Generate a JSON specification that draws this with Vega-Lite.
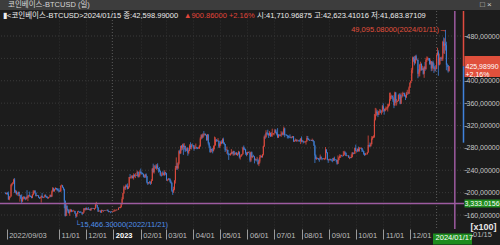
{
  "$schema": "https://vega.github.io/schema/vega-lite/v6.json",
  "width": 464,
  "height": 218,
  "autosize": {"type": "none"},
  "padding": {"left": 0, "top": 11, "right": 36, "bottom": 16},
  "background": "#1c1c1c",
  "config": {
    "view": {"stroke": null},
    "font": "Liberation Sans, Noto Sans CJK KR, sans-serif",
    "axis": {"labelFont": "Liberation Sans, sans-serif", "labelFontSize": 7.5, "labelOverlap": false}
  },
  "data": {
    "values": "d,o,h,l,c\n2022-09-03,199.9,200.6,197.2,198.0\n2022-09-04,198.0,200.0,196.6,199.4\n2022-09-05,199.4,200.6,196.4,197.9\n2022-09-06,197.9,202.0,187.5,187.9\n2022-09-07,187.9,193.6,186.3,192.9\n2022-09-08,192.9,194.3,190.2,193.2\n2022-09-09,193.2,215.6,193.0,213.6\n2022-09-10,213.6,216.6,211.3,216.5\n2022-09-11,216.5,218.6,214.9,218.3\n2022-09-12,218.3,224.9,215.6,223.7\n2022-09-13,223.7,226.0,199.5,201.8\n2022-09-14,201.8,205.0,199.0,201.9\n2022-09-15,201.9,203.7,196.4,197.0\n2022-09-16,197.0,199.6,194.4,198.0\n2022-09-17,198.0,201.9,197.2,201.1\n2022-09-18,201.1,201.9,193.4,194.2\n2022-09-19,194.2,196.8,183.9,195.4\n2022-09-20,195.4,195.6,188.4,189.9\n2022-09-21,189.9,197.0,181.3,184.3\n2022-09-22,184.3,192.6,183.8,191.7\n2022-09-23,191.7,193.3,187.9,192.8\n2022-09-24,192.8,193.1,188.9,189.4\n2022-09-25,189.4,191.1,186.3,188.0\n2022-09-26,188.0,193.1,187.5,192.2\n2022-09-27,192.2,204.4,188.5,190.8\n2022-09-28,190.8,195.4,184.8,194.1\n2022-09-29,194.1,196.4,191.1,195.4\n2022-09-30,195.4,201.8,192.6,194.2\n2022-10-01,194.2,194.8,192.2,193.1\n2022-10-02,193.1,193.9,189.9,190.5\n2022-10-03,190.5,197.2,190.0,196.2\n2022-10-04,196.2,204.4,195.2,201.6\n2022-10-05,201.6,203.6,197.7,203.4\n2022-10-06,203.4,204.5,199.5,199.8\n2022-10-07,199.8,200.4,193.2,194.2\n2022-10-08,194.2,195.9,193.4,195.5\n2022-10-09,195.5,195.9,194.2,194.5\n2022-10-10,194.5,195.4,190.7,191.3\n2022-10-11,191.3,192.2,188.6,190.6\n2022-10-12,190.6,192.1,189.4,191.6\n2022-10-13,191.6,195.1,182.1,193.8\n2022-10-14,193.8,199.5,190.9,191.8\n2022-10-15,191.8,192.3,190.2,190.7\n2022-10-16,190.7,192.9,190.6,192.7\n2022-10-17,192.7,196.6,192.6,195.5\n2022-10-18,195.5,196.9,191.5,193.3\n2022-10-19,193.3,193.6,190.8,191.3\n2022-10-20,191.3,193.4,189.1,190.4\n2022-10-21,190.4,192.3,188.9,191.6\n2022-10-22,191.6,192.6,191.2,192.0\n2022-10-23,192.0,196.9,191.9,195.7\n2022-10-24,195.7,196.0,191.8,193.3\n2022-10-25,193.3,204.1,192.4,202.1\n2022-10-26,202.1,210.1,200.9,207.7\n2022-10-27,207.7,208.6,201.8,202.9\n2022-10-28,202.9,206.5,201.5,205.9\n2022-10-29,205.9,209.5,205.5,208.2\n2022-10-30,208.2,208.5,205.2,206.3\n2022-10-31,206.3,208.3,202.4,204.9\n2022-11-01,204.9,206.8,203.9,204.8\n2022-11-02,204.8,207.9,200.6,201.6\n2022-11-03,201.6,203.9,201.3,202.1\n2022-11-04,202.1,213.0,201.9,212.5\n2022-11-05,212.5,214.5,211.2,212.9\n2022-11-06,212.9,213.6,209.0,209.2\n2022-11-07,209.2,210.3,204.1,206.1\n2022-11-08,206.1,207.2,172.0,185.4\n2022-11-09,185.4,185.9,157.2,158.8\n2022-11-10,158.8,180.1,158.1,176.0\n2022-11-11,176.0,177.6,164.0,170.7\n2022-11-12,170.7,171.1,166.6,168.5\n2022-11-13,168.5,169.0,162.9,163.3\n2022-11-14,163.3,170.3,158.6,166.1\n2022-11-15,166.1,170.9,165.6,169.0\n2022-11-16,169.0,170.3,165.0,166.6\n2022-11-17,166.6,168.5,165.4,166.8\n2022-11-18,166.8,169.3,166.4,166.9\n2022-11-19,166.9,167.9,165.9,167.0\n2022-11-20,167.0,167.5,162.3,162.8\n2022-11-21,162.8,163.3,154.66,157.9\n2022-11-22,157.9,162.9,156.4,162.1\n2022-11-23,162.1,167.1,161.6,166.1\n2022-11-24,166.1,167.7,165.5,166.0\n2022-11-25,166.0,166.0,163.5,165.2\n2022-11-26,165.2,166.8,164.3,164.6\n2022-11-27,164.6,166.0,164.1,164.4\n2022-11-28,164.4,164.8,159.9,162.2\n2022-11-29,162.2,165.5,161.8,164.4\n2022-11-30,164.4,172.3,164.2,171.7\n2022-12-01,171.7,172.0,168.5,169.7\n2022-12-02,169.7,172.9,168.1,172.8\n2022-12-03,172.8,172.9,169.3,169.7\n2022-12-04,169.7,171.8,169.4,171.1\n2022-12-05,171.1,174.2,169.2,169.7\n2022-12-06,169.7,171.1,168.9,170.9\n2022-12-07,170.9,171.2,167.5,168.3\n2022-12-08,168.3,172.7,167.6,172.3\n2022-12-09,172.3,173.0,170.9,171.3\n2022-12-10,171.3,172.3,170.9,171.3\n2022-12-11,171.3,172.6,170.7,170.9\n2022-12-12,170.9,172.3,168.7,172.1\n2022-12-13,172.1,180.1,171.1,177.8\n2022-12-14,177.8,183.6,176.8,178.1\n2022-12-15,178.1,178.3,172.7,173.6\n2022-12-16,173.6,174.1,165.4,166.3\n2022-12-17,166.3,168.0,166.1,167.8\n2022-12-18,167.8,168.4,166.7,167.8\n2022-12-19,167.8,168.2,163.9,164.4\n2022-12-20,164.4,169.7,164.0,169.0\n2022-12-21,169.0,169.1,167.5,168.3\n2022-12-22,168.3,168.6,165.6,168.3\n2022-12-23,168.3,168.6,167.7,167.8\n2022-12-24,167.8,168.6,167.7,168.4\n2022-12-25,168.4,168.5,167.4,168.3\n2022-12-26,168.3,169.5,167.8,169.2\n2022-12-27,169.2,169.7,166.3,167.1\n2022-12-28,167.1,167.2,164.7,165.5\n2022-12-29,165.5,166.9,165.1,166.3\n2022-12-30,166.3,166.4,163.3,166.1\n2022-12-31,166.1,166.5,165.0,165.4\n2023-01-01,165.4,166.3,165.0,166.2\n2023-01-02,166.2,167.9,165.5,166.7\n2023-01-03,166.7,169.8,166.0,166.7\n2023-01-04,166.7,170.1,166.6,168.5\n2023-01-05,168.5,168.6,167.6,168.3\n2023-01-06,168.3,170.1,167.9,169.5\n2023-01-07,169.5,169.6,169.1,169.4\n2023-01-08,169.4,173.3,169.1,172.8\n2023-01-09,172.8,174.4,172.3,172.5\n2023-01-10,172.5,175.3,172.0,174.5\n2023-01-11,174.5,179.9,173.1,179.4\n2023-01-12,179.4,191.8,178.7,188.5\n2023-01-13,188.5,199.7,187.7,199.1\n2023-01-14,199.1,212.7,197.7,209.8\n2023-01-15,209.8,210.9,205.5,208.8\n2023-01-16,208.8,214.6,205.0,211.9\n2023-01-17,211.9,214.4,209.9,211.3\n2023-01-18,211.3,216.4,205.8,206.8\n2023-01-19,206.8,211.6,206.6,210.7\n2023-01-20,210.7,228.1,208.9,227.8\n2023-01-21,227.8,233.4,226.3,227.1\n2023-01-22,227.1,230.3,224.4,227.8\n2023-01-23,227.8,231.6,226.1,229.1\n2023-01-24,229.1,231.1,225.0,226.3\n2023-01-25,226.3,234.5,223.3,231.4\n2023-01-26,231.4,232.9,228.2,230.2\n2023-01-27,230.2,234.8,226.0,230.8\n2023-01-28,230.8,231.4,229.6,230.3\n2023-01-29,230.3,239.5,229.8,237.4\n2023-01-30,237.4,237.5,227.1,228.3\n2023-01-31,228.3,232.9,227.0,231.4\n2023-02-01,231.4,239.6,228.9,237.2\n2023-02-02,237.2,243.0,234.0,234.7\n2023-02-03,234.7,237.4,232.3,234.3\n2023-02-04,234.3,235.8,232.7,233.3\n2023-02-05,233.3,234.3,227.5,228.7\n2023-02-06,228.7,231.6,226.4,227.6\n2023-02-07,227.6,233.3,226.7,232.6\n2023-02-08,232.6,234.5,226.5,229.4\n2023-02-09,229.4,229.9,216.4,218.0\n2023-02-10,218.0,219.0,213.6,216.3\n2023-02-11,216.3,219.0,216.2,218.6\n2023-02-12,218.6,221.0,216.1,218.0\n2023-02-13,218.0,220.0,213.9,217.9\n2023-02-14,217.9,224.0,215.3,221.3\n2023-02-15,221.3,243.5,221.2,243.3\n2023-02-16,243.3,251.8,235.7,236.4\n2023-02-17,236.4,249.6,234.0,246.9\n2023-02-18,246.9,248.5,245.2,246.3\n2023-02-19,246.3,250.2,242.5,243.3\n2023-02-20,243.3,251.2,240.3,248.5\n2023-02-21,248.5,252.5,242.0,243.4\n2023-02-22,243.4,243.6,235.8,241.8\n2023-02-23,241.8,245.8,237.0,238.6\n2023-02-24,238.6,239.5,229.9,231.8\n2023-02-25,231.8,232.0,228.5,230.6\n2023-02-26,230.6,236.8,230.0,235.5\n2023-02-27,235.5,238.9,232.2,234.9\n2023-02-28,234.9,235.9,230.2,231.4\n2023-03-01,231.4,240.2,230.2,236.5\n2023-03-02,236.5,236.5,231.9,234.7\n2023-03-03,234.7,234.8,221.1,223.5\n2023-03-04,223.5,224.0,220.4,223.5\n2023-03-05,223.5,226.2,221.9,224.3\n2023-03-06,224.3,226.0,222.5,224.0\n2023-03-07,224.0,225.5,218.1,220.1\n2023-03-08,220.1,222.0,216.0,217.2\n2023-03-09,217.2,218.6,201.6,203.6\n2023-03-10,203.6,204.1,196.0,201.9\n2023-03-11,201.9,210.6,199.3,206.3\n2023-03-12,206.3,222.0,204.4,221.6\n2023-03-13,221.6,247.8,216.3,243.7\n2023-03-14,243.7,263.0,240.9,247.5\n2023-03-15,247.5,253.1,240.5,243.6\n2023-03-16,243.6,254.9,241.9,252.0\n2023-03-17,252.0,275.9,250.1,273.9\n2023-03-18,273.9,277.0,268.7,270.3\n2023-03-19,270.3,284.1,269.2,283.5\n2023-03-20,283.5,285.1,275.3,280.2\n2023-03-21,280.2,287.4,276.6,284.8\n2023-03-22,284.8,287.9,267.5,281.6\n2023-03-23,281.6,288.4,277.5,283.4\n2023-03-24,283.4,284.0,272.5,275.2\n2023-03-25,275.2,277.7,273.7,274.9\n2023-03-26,274.9,280.8,274.5,280.2\n2023-03-27,280.2,280.4,265.9,271.4\n2023-03-28,271.4,276.5,268.7,274.6\n2023-03-29,274.6,286.5,274.6,283.6\n2023-03-30,283.6,290.0,278.0,281.2\n2023-03-31,281.2,287.0,277.2,284.8\n2023-04-01,284.8,288.0,283.9,284.5\n2023-04-02,284.5,285.3,279.2,281.9\n2023-04-03,281.9,284.9,274.9,278.1\n2023-04-04,278.1,284.4,278.0,281.7\n2023-04-05,281.7,287.8,280.8,281.7\n2023-04-06,281.7,282.0,277.7,280.3\n2023-04-07,280.3,281.0,277.8,279.1\n2023-04-08,279.1,281.7,278.8,279.2\n2023-04-09,279.2,285.3,278.1,283.3\n2023-04-10,283.3,299.0,281.7,297.0\n2023-04-11,297.0,304.3,295.0,302.4\n2023-04-12,302.4,304.5,296.2,298.4\n2023-04-13,298.4,306.2,298.0,304.5\n2023-04-14,304.5,310.0,300.4,303.9\n2023-04-15,303.9,306.1,302.4,304.9\n2023-04-16,304.9,305.5,301.8,303.2\n2023-04-17,303.2,303.2,292.7,294.3\n2023-04-18,294.3,304.9,293.0,303.9\n2023-04-19,303.9,304.1,285.8,288.2\n2023-04-20,288.2,290.2,280.1,282.5\n2023-04-21,282.5,283.7,271.3,272.6\n2023-04-22,272.6,278.9,271.3,278.2\n2023-04-23,278.2,278.3,273.0,275.9\n2023-04-24,275.9,280.0,270.2,275.1\n2023-04-25,275.1,284.5,273.6,283.1\n2023-04-26,283.1,300.2,277.3,284.2\n2023-04-27,284.2,298.9,284.5,294.7\n2023-04-28,294.7,295.9,290.5,293.4\n2023-04-29,293.4,294.5,291.6,292.4\n2023-04-30,292.4,297.4,290.9,292.7\n2023-05-01,292.7,292.8,279.7,282.6\n2023-05-02,282.6,288.8,279.6,286.8\n2023-05-03,286.8,292.5,283.7,290.3\n2023-05-04,290.3,293.6,286.7,288.5\n2023-05-05,288.5,297.0,288.3,295.3\n2023-05-06,295.3,298.3,286.9,289.0\n2023-05-07,289.0,290.0,284.8,287.0\n2023-05-08,287.0,287.1,272.7,276.8\n2023-05-09,276.8,278.2,274.7,276.2\n2023-05-10,276.2,282.4,269.3,276.6\n2023-05-11,276.6,276.2,267.0,269.8\n2023-05-12,269.8,270.3,258.5,268.1\n2023-05-13,268.1,269.6,267.0,267.8\n2023-05-14,267.8,271.0,266.0,269.1\n2023-05-15,269.1,277.8,268.2,272.1\n2023-05-16,272.1,272.6,268.7,270.3\n2023-05-17,270.3,275.0,266.0,274.1\n2023-05-18,274.1,274.7,266.5,268.2\n2023-05-19,268.2,270.8,266.8,268.9\n2023-05-20,268.9,272.2,268.5,271.2\n2023-05-21,271.2,272.5,266.9,267.5\n2023-05-22,267.5,270.6,265.4,268.5\n2023-05-23,268.5,274.8,268.4,273.3\n2023-05-24,273.3,273.4,261.1,263.3\n2023-05-25,263.3,266.2,259.1,264.8\n2023-05-26,264.8,269.3,264.1,267.2\n2023-05-27,267.2,269.0,266.0,268.6\n2023-05-28,268.6,282.1,268.5,280.8\n2023-05-29,280.8,284.3,275.7,277.5\n2023-05-30,277.5,280.6,276.0,277.0\n2023-05-31,277.0,278.4,267.6,271.2\n2023-06-01,271.2,272.1,265.1,268.2\n2023-06-02,268.2,273.3,267.1,272.5\n2023-06-03,272.5,272.8,270.5,271.2\n2023-06-04,271.2,274.2,270.5,271.2\n2023-06-05,271.2,271.4,254.3,257.6\n2023-06-06,257.6,273.3,255.0,272.4\n2023-06-07,272.4,273.5,262.6,263.5\n2023-06-08,263.5,266.2,261.6,265.0\n2023-06-09,265.0,267.7,263.9,264.8\n2023-06-10,264.8,265.0,252.3,258.5\n2023-06-11,258.5,261.2,257.1,259.2\n2023-06-12,259.2,260.3,255.6,259.0\n2023-06-13,259.0,264.0,257.6,259.0\n2023-06-14,259.0,261.0,249.6,251.2\n2023-06-15,251.2,257.5,247.4,255.8\n2023-06-16,255.8,267.2,252.6,263.3\n2023-06-17,263.3,267.7,262.5,265.2\n2023-06-18,265.2,266.3,263.1,263.4\n2023-06-19,263.4,268.9,262.6,268.4\n2023-06-20,268.4,284.0,266.5,283.1\n2023-06-21,283.1,302.0,281.6,300.0\n2023-06-22,300.0,304.3,295.8,299.0\n2023-06-23,299.0,311.6,298.2,306.9\n2023-06-24,306.9,308.0,302.4,305.5\n2023-06-25,305.5,312.5,302.5,304.7\n2023-06-26,304.7,306.5,297.6,302.7\n2023-06-27,302.7,310.0,301.6,306.9\n2023-06-28,306.9,307.0,299.5,300.8\n2023-06-29,300.8,308.2,300.2,304.5\n2023-06-30,304.5,314.4,299.9,304.7\n2023-07-01,304.7,306.6,302.6,305.9\n2023-07-02,305.9,306.6,302.7,306.2\n2023-07-03,306.2,313.9,305.8,311.6\n2023-07-04,311.6,313.3,306.2,307.7\n2023-07-05,307.7,308.8,302.3,305.1\n2023-07-06,305.1,315.3,297.5,298.9\n2023-07-07,298.9,304.5,297.7,303.5\n2023-07-08,303.5,304.0,300.6,302.9\n2023-07-09,302.9,304.2,301.5,302.0\n2023-07-10,302.0,309.9,299.5,304.1\n2023-07-11,304.1,308.1,302.9,306.2\n2023-07-12,306.2,309.5,302.2,303.9\n2023-07-13,303.9,318.1,302.5,314.8\n2023-07-14,314.8,316.0,299.0,303.2\n2023-07-15,303.2,304.0,302.4,302.9\n2023-07-16,302.9,304.4,302.0,302.3\n2023-07-17,302.3,303.3,297.0,301.4\n2023-07-18,301.4,302.5,296.6,299.2\n2023-07-19,299.2,302.0,297.8,299.1\n2023-07-20,299.1,304.1,297.2,298.0\n2023-07-21,298.0,300.5,297.4,299.1\n2023-07-22,299.1,300.1,296.9,298.6\n2023-07-23,298.6,301.1,298.5,300.9\n2023-07-24,300.9,301.0,290.6,291.8\n2023-07-25,291.8,293.7,290.6,292.3\n2023-07-26,292.3,296.8,291.9,293.5\n2023-07-27,293.5,295.6,291.0,292.2\n2023-07-28,292.2,295.3,290.8,293.1\n2023-07-29,293.1,294.1,292.8,293.6\n2023-07-30,293.6,294.4,290.8,292.8\n2023-07-31,292.8,295.0,290.9,292.3\n2023-08-01,292.3,297.3,286.8,296.8\n2023-08-02,296.8,300.5,290.0,291.8\n2023-08-03,291.8,294.4,290.1,291.8\n2023-08-04,291.8,293.1,288.0,290.9\n2023-08-05,290.9,291.6,289.3,290.6\n2023-08-06,290.6,292.2,289.0,290.9\n2023-08-07,290.9,292.8,285.9,291.8\n2023-08-08,291.8,301.5,290.9,297.7\n2023-08-09,297.7,301.3,294.5,295.6\n2023-08-10,295.6,297.0,293.5,294.3\n2023-08-11,294.3,294.9,292.3,293.9\n2023-08-12,293.9,294.5,293.6,294.1\n2023-08-13,294.1,294.4,292.4,292.8\n2023-08-14,292.8,296.6,292.5,294.1\n2023-08-15,294.1,294.6,290.8,291.7\n2023-08-16,291.7,292.2,283.9,284.0\n2023-08-17,284.0,285.6,253.0,266.3\n2023-08-18,266.3,268.2,259.4,260.5\n2023-08-19,260.5,263.5,258.5,261.9\n2023-08-20,261.9,262.3,260.7,261.2\n2023-08-21,261.2,261.9,258.1,260.6\n2023-08-22,260.6,261.3,255.2,259.6\n2023-08-23,259.6,268.1,259.0,264.3\n2023-08-24,264.3,264.6,259.4,261.6\n2023-08-25,261.6,261.9,257.9,260.5\n2023-08-26,260.5,261.0,259.6,260.0\n2023-08-27,260.0,261.7,259.5,260.9\n2023-08-28,260.9,262.2,258.2,261.0\n2023-08-29,261.0,281.5,259.5,277.3\n2023-08-30,277.3,277.5,270.5,271.9\n2023-08-31,271.9,272.3,258.0,259.3\n2023-09-01,259.3,260.4,253.2,258.0\n2023-09-02,258.0,259.9,257.6,258.7\n2023-09-03,258.7,260.6,257.5,259.7\n2023-09-04,259.7,260.6,257.6,258.1\n2023-09-05,258.1,259.3,255.7,257.8\n2023-09-06,257.8,262.0,254.3,257.5\n2023-09-07,257.5,262.4,256.7,261.2\n2023-09-08,261.2,264.3,256.6,259.1\n2023-09-09,259.1,259.6,258.1,258.8\n2023-09-10,258.8,259.1,255.0,258.4\n2023-09-11,258.4,258.8,249.8,251.6\n2023-09-12,251.6,266.5,251.4,258.5\n2023-09-13,258.5,263.9,257.7,261.9\n2023-09-14,261.9,268.6,261.7,265.3\n2023-09-15,265.3,267.6,262.3,266.1\n2023-09-16,266.1,267.6,264.8,265.7\n2023-09-17,265.7,266.2,264.4,265.3\n2023-09-18,265.3,274.2,265.0,267.6\n2023-09-19,267.6,274.9,266.4,272.1\n2023-09-20,272.1,273.9,268.5,271.3\n2023-09-21,271.3,271.6,265.3,265.7\n2023-09-22,265.7,267.4,264.9,265.8\n2023-09-23,265.8,266.4,265.2,265.8\n2023-09-24,265.8,267.2,262.3,262.6\n2023-09-25,262.6,264.3,259.9,262.9\n2023-09-26,262.9,263.9,261.6,262.2\n2023-09-27,262.2,268.4,261.6,263.5\n2023-09-28,263.5,272.7,262.9,271.1\n2023-09-29,271.1,272.3,268.2,269.2\n2023-09-30,269.2,270.8,269.1,269.7\n2023-10-01,269.7,280.7,269.6,279.9\n2023-10-02,279.9,285.8,274.3,274.9\n2023-10-03,274.9,275.7,271.7,274.3\n2023-10-04,274.3,279.0,272.8,277.9\n2023-10-05,277.9,282.3,273.6,274.1\n2023-10-06,274.1,281.6,273.4,279.3\n2023-10-07,279.3,280.5,278.2,279.5\n2023-10-08,279.5,281.3,278.1,279.7\n2023-10-09,279.7,280.1,272.6,275.9\n2023-10-10,275.9,277.3,273.0,273.9\n2023-10-11,273.9,274.5,267.5,269.6\n2023-10-12,269.6,270.9,265.6,267.6\n2023-10-13,267.6,271.1,266.9,268.6\n2023-10-14,268.6,269.4,268.1,268.6\n2023-10-15,268.6,272.7,268.4,271.6\n2023-10-16,271.6,302.1,271.4,285.2\n2023-10-17,285.2,285.6,280.9,284.1\n2023-10-18,284.1,289.6,281.8,283.3\n2023-10-19,283.3,289.0,281.9,286.7\n2023-10-20,286.7,301.0,286.3,296.7\n2023-10-21,296.7,300.8,294.6,299.1\n2023-10-22,299.1,302.4,297.6,299.9\n2023-10-23,299.9,340.6,298.1,330.9\n2023-10-24,330.9,351.5,329.0,339.1\n2023-10-25,339.1,350.4,336.7,345.0\n2023-10-26,345.0,347.9,338.0,342.2\n2023-10-27,342.2,344.6,335.0,339.1\n2023-10-28,339.1,346.5,338.8,345.3\n2023-10-29,345.3,349.3,342.8,345.3\n2023-10-30,345.3,348.5,342.0,344.9\n2023-10-31,344.9,347.0,339.5,346.4\n2023-11-01,346.4,356.6,343.0,354.3\n2023-11-02,354.3,359.7,344.7,349.4\n2023-11-03,349.4,349.5,339.4,345.7\n2023-11-04,345.7,351.5,345.5,350.0\n2023-11-05,350.0,354.2,347.3,350.2\n2023-11-06,350.2,352.8,348.1,350.5\n2023-11-07,350.5,358.9,345.0,353.8\n2023-11-08,353.8,358.9,352.5,356.9\n2023-11-09,356.9,378.7,355.1,366.9\n2023-11-10,366.9,378.9,364.1,372.9\n2023-11-11,372.9,375.2,367.2,372.9\n2023-11-12,372.9,373.6,368.1,370.7\n2023-11-13,370.7,374.2,362.0,364.6\n2023-11-14,364.6,367.9,351.0,356.0\n2023-11-15,356.0,380.5,354.9,378.9\n2023-11-16,378.9,379.7,360.1,363.1\n2023-11-17,363.1,367.6,355.6,363.5\n2023-11-18,363.5,364.7,361.7,363.8\n2023-11-19,363.8,375.4,363.3,375.0\n2023-11-20,375.0,377.7,367.1,374.6\n2023-11-21,374.6,376.6,357.9,359.1\n2023-11-22,359.1,378.6,358.6,372.4\n2023-11-23,372.4,375.1,369.6,372.2\n2023-11-24,372.2,380.4,371.8,377.8\n2023-11-25,377.8,378.4,376.3,377.3\n2023-11-26,377.3,378.7,371.7,372.3\n2023-11-27,372.3,374.7,365.6,370.6\n2023-11-28,370.6,380.1,368.9,377.2\n2023-11-29,377.2,383.9,374.5,377.4\n2023-11-30,377.4,380.1,375.7,377.2\n2023-12-01,377.2,389.9,376.3,387.9\n2023-12-02,387.9,397.6,387.0,396.0\n2023-12-03,396.0,400.5,395.4,399.7\n2023-12-04,399.7,423.1,399.7,419.9\n2023-12-05,419.9,443.2,413.3,441.1\n2023-12-06,441.1,442.9,434.0,439.5\n2023-12-07,439.5,443.9,427.5,431.2\n2023-12-08,431.2,445.5,430.5,443.7\n2023-12-09,443.7,446.6,436.9,437.5\n2023-12-10,437.5,440.0,435.4,437.6\n2023-12-11,437.6,437.8,404.5,412.5\n2023-12-12,412.5,420.5,407.4,414.8\n2023-12-13,414.8,430.3,407.9,428.7\n2023-12-14,428.7,434.1,418.0,430.1\n2023-12-15,430.1,431.1,418.0,419.5\n2023-12-16,419.5,426.9,418.8,421.8\n2023-12-17,421.8,423.4,411.0,412.6\n2023-12-18,412.6,426.3,405.2,425.0\n2023-12-19,425.0,433.6,417.4,421.0\n2023-12-20,421.0,440.9,419.5,437.1\n2023-12-21,437.1,443.5,433.5,438.3\n2023-12-22,438.3,442.9,436.3,439.8\n2023-12-23,439.8,440.7,435.9,439.7\n2023-12-24,439.7,440.6,428.7,430.2\n2023-12-25,430.2,437.9,428.6,434.7\n2023-12-26,434.7,435.0,417.0,421.8\n2023-12-27,421.8,434.5,417.8,433.3\n2023-12-28,433.3,436.0,423.3,425.8\n2023-12-29,425.8,431.0,413.9,421.0\n2023-12-30,421.0,425.7,416.8,422.1\n2023-12-31,422.1,427.8,416.8,421.4\n2024-01-01,421.4,447.6,420.5,446.0\n2024-01-02,446.0,459.0,445.0,451.1\n2024-01-03,451.1,454.4,409.0,428.5\n2024-01-04,428.5,448.6,427.4,440.3\n2024-01-05,440.3,442.8,429.2,441.0\n2024-01-06,441.0,442.0,435.3,438.9\n2024-01-07,438.9,443.4,435.8,439.5\n2024-01-08,439.5,471.5,435.5,469.8\n2024-01-09,469.8,477.5,448.9,462.8\n2024-01-10,462.8,476.0,448.0,466.4\n2024-01-11,466.4,490.95,454.0,463.4\n2024-01-12,463.4,469.8,418.8,428.5\n2024-01-13,428.5,430.9,424.5,427.6\n2024-01-14,427.6,428.3,414.5,416.98\n2024-01-15,417.11,426.23,416.84,425.99",
    "format": {"type": "csv", "parse": {"d": "date", "o": "number", "h": "number", "l": "number", "c": "number"}}
  },
  "layer": [
    {
      "data": {"values": [{"g": 160}, {"g": 200}, {"g": 240}, {"g": 280}, {"g": 320}, {"g": 360}, {"g": 400}, {"g": 440}, {"g": 480}]},
      "mark": {"type": "rule", "color": "#3a3a3a", "strokeWidth": 1, "strokeDash": [1, 2]},
      "encoding": {"y": {"field": "g", "type": "quantitative"}}
    },
    {
      "data": {"values": [{"yb": "2023-01-01"}, {"yb": "2024-01-01"}]},
      "mark": {"type": "rule", "color": "#5c5c5c", "strokeWidth": 1, "strokeDash": [1, 2]},
      "encoding": {"x": {"field": "yb", "type": "temporal"}}
    },
    {
      "mark": {"type": "rule", "strokeWidth": 0.8},
      "encoding": {
        "x": {
          "field": "d", "type": "temporal",
          "scale": {"type": "utc", "domain": [{"year": 2022, "month": 9, "date": 2, "hours": 5, "utc": true}, {"year": 2024, "month": 1, "date": 26, "hours": 5, "utc": true}]},
          "axis": {
            "title": null,
            "orient": "bottom",
            "domain": false,
            "tickCount": 100,
            "values": [
              {"year": 2022, "month": 9, "date": 3, "utc": true},
              {"year": 2022, "month": 11, "date": 1, "utc": true},
              {"year": 2022, "month": 12, "date": 1, "utc": true},
              {"year": 2023, "month": 1, "date": 1, "utc": true},
              {"year": 2023, "month": 2, "date": 1, "utc": true},
              {"year": 2023, "month": 3, "date": 1, "utc": true},
              {"year": 2023, "month": 4, "date": 1, "utc": true},
              {"year": 2023, "month": 5, "date": 1, "utc": true},
              {"year": 2023, "month": 6, "date": 1, "utc": true},
              {"year": 2023, "month": 7, "date": 1, "utc": true},
              {"year": 2023, "month": 8, "date": 1, "utc": true},
              {"year": 2023, "month": 9, "date": 1, "utc": true},
              {"year": 2023, "month": 10, "date": 1, "utc": true},
              {"year": 2023, "month": 11, "date": 1, "utc": true},
              {"year": 2023, "month": 12, "date": 1, "utc": true},
              {"year": 2024, "month": 1, "date": 17, "utc": true}
            ],
            "labelExpr": "utcdate(datum.value) == 17 ? '2024/01/17' : (utcdate(datum.value) == 3 ? '2022/09/03' : (utcmonth(datum.value) == 0 ? utcFormat(datum.value, '%Y') : utcFormat(datum.value, '%m/%d')))",
            "labelAlign": {"condition": {"test": "utcdate(datum.value) == 17", "value": "center"}, "value": "left"},
            "labelBaseline": "top",
            "labelPadding": {"condition": {"test": "utcdate(datum.value) == 17", "value": -11}, "value": -8},
            "labelOffset": 2,
            "labelColor": {"condition": [{"test": "utcdate(datum.value) == 17", "value": "#ffffff"}, {"test": "utcmonth(datum.value) == 0 && utcdate(datum.value) == 1", "value": "#ffffff"}], "value": "#bdbdbd"},
            "labelFontWeight": {"condition": {"test": "utcmonth(datum.value) == 0 && utcdate(datum.value) == 1", "value": "bold"}, "value": "normal"},
            "labelOverlap": false,
            "labelBound": false,
            "labelFlush": false,
            "tickColor": {"condition": {"test": "utcdate(datum.value) == 17", "value": "#1e8c1e"}, "value": "#9a9a9a"},
            "tickSize": {"condition": {"test": "utcdate(datum.value) == 17", "value": 15}, "value": 10},
            "tickWidth": {"condition": {"test": "utcdate(datum.value) == 17", "value": 39}, "value": 1},
            "tickDash": {"condition": {"test": "utcdate(datum.value) == 17", "value": [0, 4, 11, 30]}, "value": []},
            "tickOffset": 1,
            "grid": true,
            "gridDash": [1, 2],
            "gridColor": {"condition": {"test": "utcdate(datum.value) == 17 || utcdate(datum.value) == 3 || utcmonth(datum.value) == 0", "value": "transparent"}, "value": "#2e2e2e"}
          }
        },
        "y": {
          "field": "l", "type": "quantitative",
          "scale": {"domain": [135, 524.7], "nice": false, "zero": false},
          "axis": {
            "orient": "right",
            "title": "[x100]",
            "titleAngle": 0,
            "titleX": 6,
            "titleY": 215,
            "titleAlign": "left",
            "titleBaseline": "middle",
            "titleColor": "#e6e6e6",
            "titleFontSize": 9,
            "titleFontWeight": "bold",
            "titleFont": "Liberation Sans, sans-serif",
            "domain": false,
            "grid": false,
            "tickCount": 100,
            "values": [160, 180.6, 200, 240, 280, 320, 360, 400, 425.99, 480],
            "labelExpr": "datum.value > 425 && datum.value < 427 ? ['425,98990', '+2,16%'] : (datum.value > 180 && datum.value < 181 ? '3,333.0156' : replace(format(datum.value, '.5f'), '.', ','))",
            "labelAlign": "left",
            "labelBaseline": "middle",
            "labelFontSize": 7,
            "labelLineHeight": 8.5,
            "labelOverlap": false,
            "labelBound": false,
            "labelFlush": false,
            "labelPadding": {"condition": [{"test": "datum.value > 425 && datum.value < 427", "value": -35}, {"test": "datum.value > 180 && datum.value < 181", "value": -36}], "value": -1},
            "labelColor": {"condition": {"test": "datum.value > 425 && datum.value < 427 || datum.value > 180 && datum.value < 181", "value": "#ffffff"}, "value": "#c8c8c8"},
            "tickColor": {"condition": [{"test": "datum.value > 425 && datum.value < 427", "value": "#e0503c"}, {"test": "datum.value > 180 && datum.value < 181", "value": "#1e8c1e"}], "value": "#8a8a8a"},
            "tickSize": {"condition": {"test": "datum.value > 425 && datum.value < 427 || datum.value > 180 && datum.value < 181", "value": 36}, "value": 3},
            "tickWidth": {"condition": [{"test": "datum.value > 425 && datum.value < 427", "value": 21}, {"test": "datum.value > 180 && datum.value < 181", "value": 8}], "value": 1}
          }
        },
        "y2": {"field": "h"},
        "color": {"condition": {"test": "datum.c >= datum.o", "value": "#e04b3f"}, "value": "#3f82dc"}
      }
    },
    {
      "mark": {"type": "bar", "width": 1},
      "encoding": {
        "x": {"field": "d", "type": "temporal"},
        "y": {"field": "o", "type": "quantitative"},
        "y2": {"field": "c"},
        "color": {"condition": {"test": "datum.c >= datum.o", "value": "#e04b3f"}, "value": "#3f82dc"}
      }
    },
    {
      "data": {"values": [{"cx": "2024-01-17"}]},
      "mark": {"type": "rule", "color": "#9d5ba0", "strokeWidth": 1.5, "xOffset": 4},
      "encoding": {"x": {"field": "cx", "type": "temporal"}}
    },
    {
      "data": {"values": [{"cy": 180.6}]},
      "mark": {"type": "rule", "color": "#9d5ba0", "strokeWidth": 1.5},
      "encoding": {"y": {"field": "cy", "type": "quantitative"}}
    },
    {
      "data": {"values": [{"a": 524.7, "b": 425.99, "k": "up"}, {"a": 425.99, "b": 289.3, "k": "down"}]},
      "mark": {"type": "rule", "strokeWidth": 1.5, "x": 463.5},
      "encoding": {
        "y": {"field": "a", "type": "quantitative"},
        "y2": {"field": "b"},
        "color": {"condition": {"test": "datum.k == 'up'", "value": "#e04b3f"}, "value": "#3f82dc"}
      }
    },
    {
      "data": {"values": [{"d": "2024-01-11", "v": 490.95, "t": "49,095.08000(2024/01/11)→"}]},
      "mark": {"type": "text", "align": "right", "baseline": "middle", "dx": 1, "fontSize": 7.5, "color": "#e0503c"},
      "encoding": {"x": {"field": "d", "type": "temporal"}, "y": {"field": "v", "type": "quantitative"}, "text": {"field": "t"}}
    },
    {
      "data": {"values": [{"d": "2022-11-21", "v": 154.66, "t": "└15,466.30000(2022/11/21)"}]},
      "mark": {"type": "text", "align": "left", "baseline": "middle", "dx": -1, "dy": 7, "fontSize": 7.5, "color": "#4f8fe8"},
      "encoding": {"x": {"field": "d", "type": "temporal"}, "y": {"field": "v", "type": "quantitative"}, "text": {"field": "t"}}
    },
    {
      "data": {"values": [{"d": "2024-01-15", "t": "01/15"}]},
      "mark": {"type": "text", "align": "left", "baseline": "top", "dx": 24, "y": 220, "fontSize": 7.5, "color": "#bdbdbd"},
      "encoding": {"x": {"field": "d", "type": "temporal"}, "text": {"field": "t"}}
    },
    {
      "data": {"values": [{}]},
      "mark": {"type": "rect", "x": 0, "x2": 500, "y": -11, "y2": -1, "fill": "#3d3d3d"}
    },
    {
      "data": {"values": [{}]},
      "mark": {"type": "text", "x": 8, "y": -6, "align": "left", "baseline": "middle", "fontSize": 7.5, "color": "#d6d6d6", "text": "코인베이스-BTCUSD (일)"}
    },
    {
      "data": {"values": [{}]},
      "mark": {"type": "text", "x": 480, "y": -6, "align": "left", "baseline": "middle", "fontSize": 8, "color": "#cfcfcf", "text": "□ ×"}
    },
    {
      "data": {"values": [{}]},
      "mark": {"type": "text", "x": 3, "y": 4.7, "align": "left", "baseline": "middle", "fontSize": 7.5, "color": "#ececec", "text": "▮<코인베이스-BTCUSD>2024/01/15 종:42,598.99000"}
    },
    {
      "data": {"values": [{}]},
      "mark": {"type": "text", "x": 184, "y": 4.7, "align": "left", "baseline": "middle", "fontSize": 7.5, "color": "#e0453a", "text": "▲900.86000  +2.16%"}
    },
    {
      "data": {"values": [{}]},
      "mark": {"type": "text", "x": 257, "y": 4.7, "align": "left", "baseline": "middle", "fontSize": 7.5, "color": "#ececec", "text": "시:41,710.96875 고:42,623.41016 저:41,683.87109"}
    }
  ]
}
